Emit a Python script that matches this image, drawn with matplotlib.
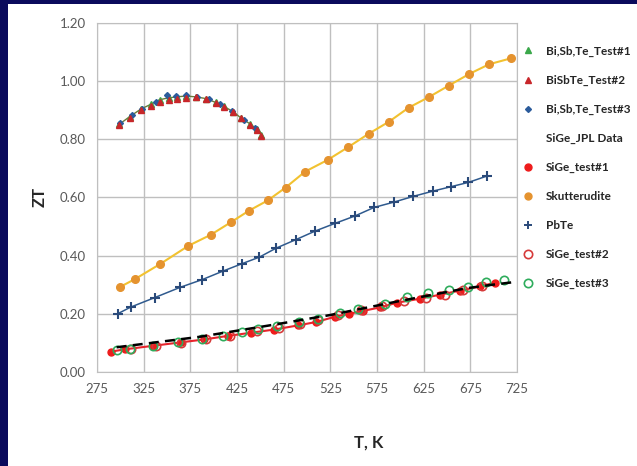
import matplotlib.pyplot as plt
from matplotlib.lines import Line2D
from matplotlib.patches import Rectangle

# ZT vs temperature for the thermoelectric samples
bst_T = [299, 310, 322, 333, 342, 352, 361, 370, 381, 392, 402, 411, 421, 429, 439, 446, 451]
bst_test1 = [0.852, 0.878, 0.904, 0.921, 0.936, 0.943, 0.946, 0.949, 0.946, 0.940, 0.927,
             0.913, 0.895, 0.874, 0.853, 0.835, 0.815]
bst_test2 = [0.848, 0.874, 0.900, 0.916, 0.928, 0.936, 0.940, 0.943, 0.944, 0.938, 0.925,
             0.911, 0.893, 0.872, 0.851, 0.832, 0.812]
bst3_T = [300, 312, 323, 338, 350, 360, 370, 382, 395, 407, 420, 432, 444]
bst_test3 = [0.855, 0.882, 0.906, 0.928, 0.951, 0.950, 0.951, 0.947, 0.937, 0.920, 0.897,
             0.868, 0.840]

skut_T = [300, 316, 343, 373, 397, 419, 438, 458, 477, 498, 522, 544, 566, 588, 609, 631,
          652, 674, 695, 719]
skut_ZT = [0.293, 0.320, 0.372, 0.434, 0.472, 0.516, 0.555, 0.590, 0.634, 0.689, 0.729,
           0.773, 0.819, 0.861, 0.909, 0.946, 0.985, 1.025, 1.058, 1.079]

pbte_T = [297, 311, 337, 364, 388, 410, 430, 449, 467, 488, 509, 530, 551, 572, 593, 614,
          635, 654, 673, 693]
pbte_ZT = [0.200, 0.223, 0.256, 0.291, 0.318, 0.347, 0.372, 0.395, 0.426, 0.455, 0.485,
           0.511, 0.536, 0.566, 0.584, 0.604, 0.622, 0.637, 0.652, 0.674]

jpl_T = [296, 385, 467, 525, 596, 671, 696, 719]
jpl_ZT = [0.085, 0.121, 0.164, 0.196, 0.242, 0.288, 0.299, 0.308]

sige1_T = [290, 305, 335, 365, 390, 415, 440, 465, 490, 510, 530, 545, 560, 578, 596, 621,
           643, 664, 685, 701]
sige1_ZT = [0.070, 0.078, 0.090, 0.102, 0.112, 0.124, 0.135, 0.146, 0.160, 0.172, 0.190,
            0.200, 0.210, 0.222, 0.238, 0.252, 0.266, 0.280, 0.294, 0.307]

sige2_T = [311, 338, 365, 392, 418, 446, 470, 492, 512, 533, 558, 580, 604, 627, 648, 667, 687]
sige2_ZT = [0.079, 0.090, 0.101, 0.112, 0.124, 0.140, 0.153, 0.165, 0.180, 0.196, 0.212,
            0.226, 0.244, 0.256, 0.266, 0.282, 0.294]

sige3_T = [296, 310, 335, 362, 387, 410, 430, 448, 468, 491, 512, 535, 555, 584, 607, 630,
           652, 672, 692, 711]
sige3_ZT = [0.075, 0.080, 0.089, 0.103, 0.112, 0.124, 0.136, 0.148, 0.158, 0.172, 0.182,
            0.203, 0.216, 0.233, 0.257, 0.273, 0.283, 0.293, 0.308, 0.316]

plt.rcParams['font.family'] = ['Lato', 'DejaVu Sans']

fig = plt.figure(figsize=(6.37, 4.66), dpi=100)
fig.patch.set_facecolor('white')
# navy slide border on the left and top
fig.add_artist(Rectangle((0, 0), 8 / 637, 1, transform=fig.transFigure,
                         facecolor='#0a0a5c', edgecolor='none', zorder=0))
fig.add_artist(Rectangle((0, 1 - 4 / 466), 1, 4 / 466, transform=fig.transFigure,
                         facecolor='#0a0a5c', edgecolor='none', zorder=0))

ax = fig.add_axes([97 / 637, 1 - 372 / 466, 420 / 637, 349 / 466])

ax.plot(bst_T, bst_test1, '-', color='#6a7a3a', lw=1.0, zorder=3)
ax.plot(bst_T, bst_test1, '^', color='#3aa84a', ms=4.5, ls='none', zorder=4)
ax.plot(bst3_T, bst_test3, 'D', color='#2b5b9b', ms=3, ls='none', zorder=4)
ax.plot(bst_T, bst_test2, '^', color='#c8262a', ms=4.5, ls='none', zorder=4)

ax.plot(skut_T, skut_ZT, '-', color='#f2c230', lw=1.5, zorder=3)
ax.plot(skut_T, skut_ZT, 'o', color='#e5932f', ms=5.5, ls='none', zorder=4)

ax.plot(pbte_T, pbte_ZT, '-', color='#2f5a8e', lw=1.1, zorder=3)
ax.plot(pbte_T, pbte_ZT, '+', color='#2a4a7a', ms=7, mew=1.5, ls='none', zorder=4)

ax.plot(sige1_T, sige1_ZT, '-', color='#e8242c', lw=1.5, zorder=3)
ax.plot(sige1_T, sige1_ZT, 'o', color='#ee1c1c', ms=5, ls='none', zorder=4)
ax.plot(sige2_T, sige2_ZT, 'o', mfc='none', mec='#d63a3a', mew=1.2, ms=6, ls='none', zorder=4)
ax.plot(sige3_T, sige3_ZT, 'o', mfc='none', mec='#2eac5c', mew=1.2, ms=6, ls='none', zorder=4)
ax.plot(jpl_T, jpl_ZT, '--', color='black', lw=1.8, dashes=(4, 2.5), zorder=5)

ax.set_xlim(275, 725)
ax.set_ylim(0, 1.2)
ax.set_xticks(range(275, 726, 50))
ax.set_yticks([i * 0.2 for i in range(7)])
ax.set_yticklabels([f'{i * 0.2:.2f}' for i in range(7)])
ax.tick_params(length=0, labelsize=9.5, labelcolor='#595959', pad=8)
ax.grid(True, color='#bfbfbf', lw=1.0)
ax.set_axisbelow(True)
for s in ax.spines.values():
    s.set_color('#bfbfbf')

fig.text(369 / 637, 1 - 443 / 466, 'T, K', ha='center', va='center',
         fontsize=12, fontweight='bold', color='#262626')
fig.text(40 / 637, 1 - 197 / 466, 'ZT', ha='center', va='center', rotation=90,
         fontsize=12, fontweight='bold', color='#262626')

handles = [
    Line2D([], [], marker='^', color='#3aa84a', ls='none', ms=4.5),
    Line2D([], [], marker='^', color='#c8262a', ls='none', ms=4.5),
    Line2D([], [], marker='D', color='#2b5b9b', ls='none', ms=3),
    Line2D([], [], ls='none'),
    Line2D([], [], marker='o', color='#ee1c1c', ls='none', ms=5),
    Line2D([], [], marker='o', color='#e5932f', ls='none', ms=5),
    Line2D([], [], marker='+', color='#2a4a7a', ls='none', ms=6, mew=1.4),
    Line2D([], [], marker='o', mfc='none', mec='#d63a3a', mew=1.2, ls='none', ms=6),
    Line2D([], [], marker='o', mfc='none', mec='#2eac5c', mew=1.2, ls='none', ms=6),
]
labels = ['Bi,Sb,Te_Test#1', 'BiSbTe_Test#2', 'Bi,Sb,Te_Test#3', 'SiGe_JPL Data',
          'SiGe_test#1', 'Skutterudite', 'PbTe', 'SiGe_test#2', 'SiGe_test#3']
leg = fig.legend(handles, labels, loc='upper left', bbox_to_anchor=(511 / 637, 1 - 35 / 466),
                 frameon=False, handlelength=1.0, handletextpad=1.05, labelspacing=1.52,
                 prop={'size': 8.5, 'weight': 'bold'})
for t in leg.get_texts():
    t.set_color('#262626')

fig.savefig('out.png', dpi=100)
